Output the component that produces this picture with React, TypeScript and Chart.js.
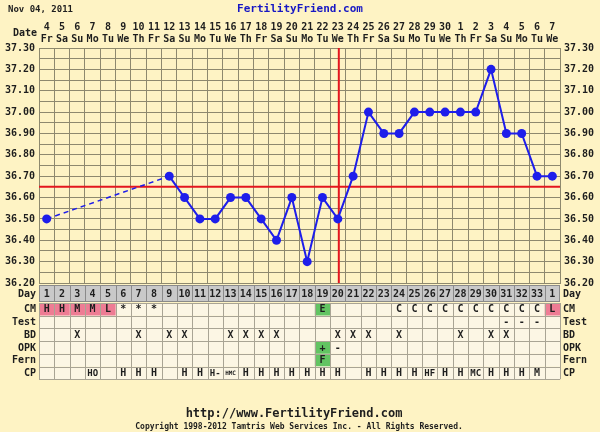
import React, { useEffect, useRef } from 'react';
import { Chart, registerables } from 'chart.js';

Chart.register(...registerables);

// ---------- data ----------
const DATES = ['4','5','6','7','8','9','10','11','12','13','14','15','16','17','18','19','20','21','22','23','24','25','26','27','28','29','30','1','2','3','4','5','6','7'];
const WEEKDAYS = ['Fr','Sa','Su','Mo','Tu','We','Th','Fr','Sa','Su','Mo','Tu','We','Th','Fr','Sa','Su','Mo','Tu','We','Th','Fr','Sa','Su','Mo','Tu','We','Th','Fr','Sa','Su','Mo','Tu','We'];
const CYCLE_DAYS = ['1','2','3','4','5','6','7','8','9','10','11','12','13','14','15','16','17','18','19','20','21','22','23','24','25','26','27','28','29','30','31','32','33','1'];
const TEMPS: (number | null)[] = [36.5, null, null, null, null, null, null, null, 36.7, 36.6, 36.5, 36.5, 36.6, 36.6, 36.5, 36.4, 36.6, 36.3, 36.6, 36.5, 36.7, 37.0, 36.9, 36.9, 37.0, 37.0, 37.0, 37.0, 37.0, 37.2, 36.9, 36.9, 36.7, 36.7];
const COVERLINE = 36.65;
const OVULATION_DAY = 20;
const Y_MIN = 36.2;
const Y_MAX = 37.3;

const CM_ROW = ['H','H','M','M','L','*','*','*','','','','','','','','','','','E','','','','','C','C','C','C','C','C','C','C','C','C','L'];
const TEST_ROW = ['','','','','','','','','','','','','','','','','','','','','','','','','','','','','','','-','-','-',''];
const BD_ROW = ['','','X','','','','X','','X','X','','','X','X','X','X','','','','X','X','X','','X','','','','X','','X','X','','',''];
const OPK_ROW = ['','','','','','','','','','','','','','','','','','','+','-','','','','','','','','','','','','','',''];
const FERN_ROW = ['','','','','','','','','','','','','','','','','','','F','','','','','','','','','','','','','','',''];
const CP_ROW = ['','','','HO','','H','H','H','','H','H','H-','HMC','H','H','H','H','H','H','H','','H','H','H','H','HF','H','H','MC','H','H','H','M',''];

// ---------- style ----------
const FONT = '"DejaVu Sans Mono", monospace';
const BG = '#FEF3C4';
const GRID = '#8E896E';
const CELL_BG = '#FCF6E4';
const CELL_LINE = '#A9A494';
const DAY_BG = '#C9C9C9';
const DAY_LINE = '#8A8A8A';
const PINK = '#EE7C94';
const GREEN = '#62C462';
const TEXT = '#1E1E1E';
const BLUE = '#1E1EEA';
const RED = '#E3161E';

function cellFill(row: string, v: string): string | null {
  if (row === 'CM') {
    if (v === 'H' || v === 'M' || v === 'L') return PINK;
    if (v === 'E') return GREEN;
  }
  if (row === 'OPK' && v === '+') return GREEN;
  if (row === 'Fern' && v === 'F') return GREEN;
  return null;
}

const fertilityPlugin = {
  id: 'fertility',
  beforeDraw(chart: any) {
    const { ctx, width, height } = chart;
    ctx.save();
    ctx.fillStyle = BG;
    ctx.fillRect(0, 0, width, height);
    ctx.restore();
  },
  beforeDatasetsDraw(chart: any) {
    const { ctx, chartArea } = chart;
    const xs = chart.scales.x;
    const ys = chart.scales.y;
    ctx.save();
    ctx.strokeStyle = RED;
    ctx.lineWidth = 2;
    const cy = ys.getPixelForValue(COVERLINE);
    ctx.beginPath();
    ctx.moveTo(chartArea.left, cy);
    ctx.lineTo(chartArea.right, cy);
    ctx.stroke();
    const cx = xs.getPixelForValue(OVULATION_DAY - 1) + 1;
    ctx.beginPath();
    ctx.moveTo(cx, chartArea.top);
    ctx.lineTo(cx, chartArea.bottom);
    ctx.stroke();
    ctx.restore();
  },
  afterDraw(chart: any) {
    const { ctx, chartArea, width } = chart;
    const xs = chart.scales.x;
    const left = chartArea.left;
    const right = chartArea.right;
    const colW = xs.getPixelForValue(1) - xs.getPixelForValue(0);
    ctx.save();
    ctx.textBaseline = 'middle';

    // header texts
    ctx.fillStyle = TEXT;
    ctx.font = `bold 9px ${FONT}`;
    ctx.textAlign = 'left';
    ctx.fillText('Nov 04, 2011', 8, 10);
    ctx.fillStyle = '#1717C4';
    ctx.font = `bold 11px ${FONT}`;
    ctx.textAlign = 'center';
    ctx.fillText('FertilityFriend.com', width / 2, 9);
    ctx.fillStyle = TEXT;
    ctx.font = `bold 10px ${FONT}`;
    ctx.textAlign = 'right';
    ctx.fillText('Date', left - 2, 33);

    // table
    const dayTop = chartArea.bottom + 2;
    const dayH = 17;
    ctx.fillStyle = DAY_BG;
    ctx.fillRect(left, dayTop, right - left, dayH);
    ctx.strokeStyle = DAY_LINE;
    ctx.lineWidth = 1;
    ctx.font = `bold 10px ${FONT}`;
    ctx.textAlign = 'center';
    for (let i = 0; i < CYCLE_DAYS.length; i++) {
      const cx = xs.getPixelForValue(i);
      ctx.fillStyle = TEXT;
      ctx.fillText(CYCLE_DAYS[i], cx, dayTop + dayH / 2 + 1);
      const bx = Math.round(cx - colW / 2) + 0.5;
      ctx.beginPath();
      ctx.moveTo(bx, dayTop);
      ctx.lineTo(bx, dayTop + dayH);
      ctx.stroke();
    }
    ctx.strokeRect(left + 0.5, dayTop + 0.5, right - left - 1, dayH - 1);

    ctx.textAlign = 'right';
    ctx.fillStyle = TEXT;
    ctx.fillText('Day', left - 3, dayTop + dayH / 2 + 1);
    ctx.textAlign = 'left';
    ctx.fillText('Day', right + 3, dayTop + dayH / 2 + 1);

    const rows: { label: string; cells: string[] }[] = [
      { label: 'CM', cells: CM_ROW },
      { label: 'Test', cells: TEST_ROW },
      { label: 'BD', cells: BD_ROW },
      { label: 'OPK', cells: OPK_ROW },
      { label: 'Fern', cells: FERN_ROW },
      { label: 'CP', cells: CP_ROW },
    ];
    const rowH = 12.7;
    let y = dayTop + dayH + 1;
    const tableTop = y;
    rows.forEach((row) => {
      ctx.fillStyle = CELL_BG;
      ctx.fillRect(left, y, right - left, rowH);
      row.cells.forEach((v, i) => {
        const cx = xs.getPixelForValue(i);
        const f = cellFill(row.label, v);
        if (f) {
          ctx.fillStyle = f;
          ctx.fillRect(cx - colW / 2, y, colW, rowH);
        }
      });
      y += rowH;
    });
    const tableBottom = y;
    // grid lines
    ctx.strokeStyle = CELL_LINE;
    ctx.lineWidth = 1;
    for (let i = 0; i <= CYCLE_DAYS.length; i++) {
      const bx = Math.round(xs.getPixelForValue(0) - colW / 2 + i * colW) + 0.5;
      ctx.beginPath();
      ctx.moveTo(bx, tableTop);
      ctx.lineTo(bx, tableBottom);
      ctx.stroke();
    }
    for (let r = 0; r <= rows.length; r++) {
      const by = Math.round(tableTop + r * rowH) + 0.5;
      ctx.beginPath();
      ctx.moveTo(left, by);
      ctx.lineTo(right, by);
      ctx.stroke();
    }
    // texts
    y = tableTop;
    rows.forEach((row) => {
      const my = y + rowH / 2 + 0.5;
      ctx.fillStyle = TEXT;
      ctx.font = `bold 10px ${FONT}`;
      ctx.textAlign = 'right';
      ctx.fillText(row.label, left - 3, my);
      ctx.textAlign = 'left';
      ctx.fillText(row.label, right + 3, my);
      ctx.textAlign = 'center';
      row.cells.forEach((v, i) => {
        if (!v) return;
        const cx = xs.getPixelForValue(i);
        const size = v.length >= 3 ? 6 : v.length === 2 ? 9 : 10;
        ctx.font = `bold ${size}px ${FONT}`;
        ctx.fillStyle = TEXT;
        ctx.fillText(v, cx, my);
      });
      y += rowH;
    });

    // footer
    ctx.fillStyle = TEXT;
    ctx.textAlign = 'center';
    ctx.font = `bold 12px ${FONT}`;
    ctx.fillText('http://www.FertilityFriend.com', 294, 414);
    ctx.font = `bold 8px ${FONT}`;
    ctx.fillText('Copyright 1998-2012 Tamtris Web Services Inc. - All Rights Reserved.', 299, 427);
    ctx.restore();
  },
};

function yTicks(scale: any) {
  const ticks = [];
  const n = Math.round((Y_MAX - Y_MIN) / 0.05);
  for (let i = 0; i <= n; i++) ticks.push({ value: +(Y_MIN + i * 0.05).toFixed(2) });
  scale.ticks = ticks;
}

function yLabel(value: any) {
  const v = Number(value);
  return Math.round(v * 100) % 10 === 0 ? v.toFixed(2) : '';
}

const gapped = (c: any) => !!(c.p0.skip || c.p1.skip);

export default function App() {
  const ref = useRef<HTMLCanvasElement>(null);
  useEffect(() => {
    document.body.style.margin = '0';
    const tickFont = { family: FONT, size: 10, weight: 'bold' as const, lineHeight: 1.2 };
    const chart = new Chart(ref.current as HTMLCanvasElement, {
      type: 'line',
      data: {
        labels: DATES.map((d, i) => [d, WEEKDAYS[i]]),
        datasets: [
          {
            data: TEMPS,
            borderColor: BLUE,
            backgroundColor: BLUE,
            borderWidth: 2,
            pointRadius: 4.5,
            pointBackgroundColor: BLUE,
            pointBorderWidth: 0,
            pointHoverRadius: 4.5,
            spanGaps: true,
            tension: 0,
            segment: {
              borderDash: (c: any) => (gapped(c) ? [5, 4] : undefined),
              borderWidth: (c: any) => (gapped(c) ? 1.5 : undefined),
            },
          } as any,
        ],
      },
      options: {
        animation: false,
        responsive: true,
        maintainAspectRatio: false,
        events: [],
        layout: { padding: { bottom: 149, top: 0, left: 0, right: 0 } },
        plugins: { legend: { display: false }, tooltip: { enabled: false } },
        scales: {
          x: {
            type: 'category',
            position: 'top',
            offset: true,
            grid: { offset: true, color: GRID, drawTicks: false, lineWidth: 1 },
            border: { color: GRID },
            ticks: { font: tickFont, color: TEXT, padding: 3, maxRotation: 0, minRotation: 0, autoSkip: false },
            afterFit: (s: any) => { s.height = 48; },
          },
          y: {
            position: 'left',
            min: Y_MIN,
            max: Y_MAX,
            grid: { color: GRID, drawTicks: false, lineWidth: 1 },
            border: { color: GRID },
            ticks: { font: tickFont, color: TEXT, padding: 4, autoSkip: false, callback: yLabel },
            afterBuildTicks: yTicks,
            afterFit: (s: any) => { s.width = 39; },
          },
          y2: {
            position: 'right',
            min: Y_MIN,
            max: Y_MAX,
            grid: { display: false, drawTicks: false },
            border: { color: GRID },
            ticks: { font: tickFont, color: TEXT, padding: 4, autoSkip: false, callback: yLabel },
            afterBuildTicks: yTicks,
            afterFit: (s: any) => { s.width = 40; },
          },
        },
      } as any,
      plugins: [fertilityPlugin],
    });
    return () => chart.destroy();
  }, []);
  return (
    <div style={{ width: 600, height: 432, position: 'relative', background: BG }}>
      <canvas ref={ref} />
    </div>
  );
}
